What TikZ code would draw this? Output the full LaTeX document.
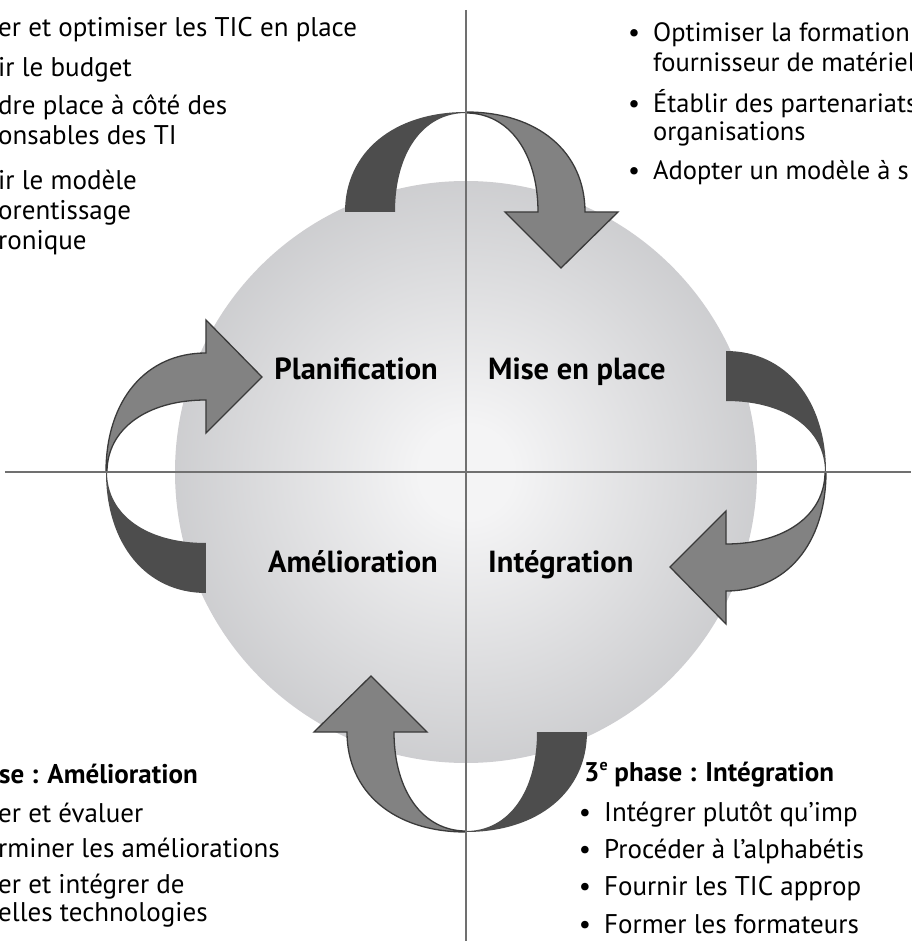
\documentclass[tikz,border=0pt]{standalone}
\usepackage{fontspec}
\setmainfont{PT Sans}

\definecolor{ribbondark}{HTML}{4D4D4D}
\definecolor{ribbonlight}{HTML}{828282}
\definecolor{ribbonedge}{HTML}{3A3A3A}
\definecolor{axisgray}{HTML}{707070}
\definecolor{globecore}{HTML}{F4F4F5}
\definecolor{globerim}{HTML}{A0A1A5}

% light centre fading to the rim of the globe
\pgfdeclareradialshading{globe}{\pgfpoint{0bp}{0bp}}{color(0bp)=(globecore); color(4bp)=(globecore); color(50bp)=(globerim); color(100bp)=(globerim)}

\newcommand\puce{\makebox[0pt][r]{•\hspace{13pt}}}

\tikzset{
  phase/.style={font=\fontsize{30.5}{34}\selectfont\bfseries, inner sep=0pt},
  liste/.style={font=\fontsize{27}{31}\selectfont, inner sep=0pt, anchor=base west},
  titre/.style={liste, font=\fontsize{27}{31}\selectfont\bfseries},
  % one turn of the cycle, drawn at the top and rotated for the others
  cyclearrow/.pic={
    \fill[ribbondark] (0,360) .. controls (-72,360) and (-121,320) .. (-121,260)
      -- (-71,260) .. controls (-71,319) and (-43,359) .. (0,359) -- cycle;
    \filldraw[fill=ribbonlight, draw=ribbonedge, line width=1.3pt]
      (0,360) .. controls (72,360) and (119,320) .. (119,260) -- (152,260)
      -- (95,204) -- (39,260) -- (72,260)
      .. controls (72,319) and (43,359) .. (0,359) -- cycle;
  }
}

\begin{document}
\begin{tikzpicture}[x=1pt,y=1pt]
  \useasboundingbox (-466,-469) rectangle (445,472);
  \clip (-466,-469) rectangle (445,472);

  % globe
  \shade[shading=globe] (0,0) circle (291);

  % the four turns, clockwise
  \foreach \a in {0,-90,-180,-270}
    \pic[rotate=\a] at (0,0) {cyclearrow};

  % axes
  \draw[axisgray, line width=1.4pt] (-461,0) -- (445,0);
  \draw[axisgray, line width=1.4pt] (0,462) -- (0,-469);

  % phases
  \node[phase, anchor=base east] (plan) at (-28,92) {Planification};
  \node[phase, anchor=base west] (mise) at (22,92) {Mise en place};
  \node[phase, anchor=base east] (amel) at (-28,-100) {Amélioration};
  \node[phase, anchor=base west] (integ) at (22,-100) {Intégration};

  % planning list
  \foreach \y/\t [count=\i] in {37/er et optimiser les TIC en place, 77/ir le budget,
      115/dre place à côté des, 145/onsables des TI, 190/ir le modèle,
      220/orentissage, 250/ronique}
    \node[liste] (plan\i) at (-468,472-\y) {\t};

  % setting-up list
  \foreach \y/\t [count=\i] in {42/\puce Optimiser la formation, 72/fournisseur de matériel,
      113/\puce Établir des partenariats, 141/organisations, 180/\puce Adopter un modèle à s}
    \node[liste, font=\fontsize{26.5}{31}\selectfont] (mise\i) at (187,472-\y) {\t};

  % improvement list
  \node[titre] (ameltitre) at (-467,-311) {se : Amélioration};
  \foreach \y/\t [count=\i] in {822/er et évaluer, 857/rminer les améliorations,
      893/er et intégrer de, 921/elles technologies}
    \node[liste] (amel\i) at (-468,472-\y) {\t};

  % integration list
  \node[titre] (integtitre) at (118,-309) {3\raisebox{0.4em}{\fontsize{16}{16}\selectfont e} phase : Intégration};
  \foreach \y/\t [count=\i] in {821/Intégrer plutôt qu’imp, 858/Procéder à l’alphabétis,
      895/Fournir les TIC approp, 933/Former les formateurs}
    \node[liste] (integ\i) at (138,472-\y) {\puce\t};
\end{tikzpicture}
\end{document}
